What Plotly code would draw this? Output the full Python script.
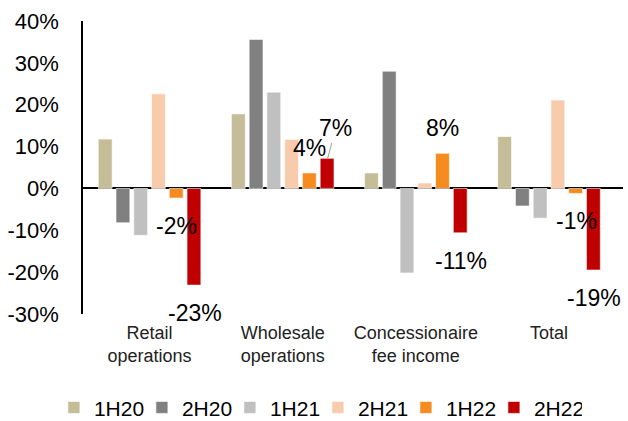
import plotly.graph_objects as go

categories = ["Retail<br>operations", "Wholesale<br>operations", "Concessionaire<br>fee income", "Total"]
series_names = ["1H20", "2H20", "1H21", "2H21", "1H22", "2H22"]
v_1H20 = [11.8, 17.8, 3.7, 12.4]
v_2H20 = [-8.2, 35.6, 28.0, -4.2]
v_1H21 = [-11.2, 23.0, -20.2, -7.1]
v_2H21 = [22.6, 11.7, 1.3, 21.1]
v_1H22 = [-2.3, 3.7, 8.4, -1.2]
v_2H22 = [-23.1, 7.2, -10.6, -19.5]
label_1H22 = ["-2%", "4%", "8%", "-1%"]
label_2H22 = ["-23%", "7%", "-11%", "-19%"]
colors = ["#C4BD97", "#808080", "#C0C0C0", "#F8CBAD", "#F68B1F", "#C00000"]
y_ticks = [-30, -20, -10, 0, 10, 20, 30, 40]

all_values = [v_1H20, v_2H20, v_1H21, v_2H21, v_1H22, v_2H22]
FONT = "Liberation Sans, Arial, sans-serif"

fig = go.Figure()
for name, vals, col in zip(series_names, all_values, colors):
    fig.add_trace(go.Bar(name=name, x=categories, y=vals,
                         marker=dict(color=col, line=dict(width=1, color="rgba(255,255,255,0.6)"))))

# data labels for 1H22 and 2H22
bar_step = 18
annotations = []
for idx, (vals, labels) in enumerate([(v_1H22, label_1H22), (v_2H22, label_2H22)]):
    i = 4 + idx
    offset = (i - 2.5) * bar_step
    for c, v, t in zip(categories, vals, labels):
        if c.startswith("Wholesale") and idx == 1:
            annotations.append(dict(x=c, y=v, text=t, xshift=offset, showarrow=True,
                                    arrowhead=0, arrowcolor="#A0A0A0", arrowwidth=1,
                                    ax=8, ay=-30, font=dict(size=23, color="black", family=FONT)))
        else:
            annotations.append(dict(x=c, y=v, text=t, xshift=offset,
                                    yshift=(25 if v > 0 else -28), showarrow=False,
                                    font=dict(size=23, color="black", family=FONT)))

fig.update_layout(
    width=628, height=421,
    margin=dict(l=83, r=5, t=21, b=107, autoexpand=False),
    paper_bgcolor="white", plot_bgcolor="white",
    barmode="group", bargap=0.2, bargroupgap=0.22,
    font=dict(family=FONT, color="black"),
    showlegend=True,
    legend=dict(orientation="h", x=0.435, xanchor="center", y=-0.32, yanchor="middle",
                font=dict(size=21, family=FONT), itemwidth=30, tracegroupgap=0,
                entrywidth=43, entrywidthmode="pixels"),
    annotations=annotations,
)
fig.update_xaxes(showline=False, ticks="", tickfont=dict(size=18, family=FONT, color="#222"),
                 showgrid=False, ticklabelstandoff=6)
fig.update_yaxes(range=[-30, 40], tickvals=y_ticks, ticktext=[f"{t}%" for t in y_ticks],
                 showgrid=False, zeroline=True, zerolinecolor="black", zerolinewidth=1.5,
                 showline=True, linecolor="black", linewidth=1.5,
                 tickfont=dict(size=22, family=FONT, color="black"), ticklabelstandoff=18)

fig.write_html("out.html")
